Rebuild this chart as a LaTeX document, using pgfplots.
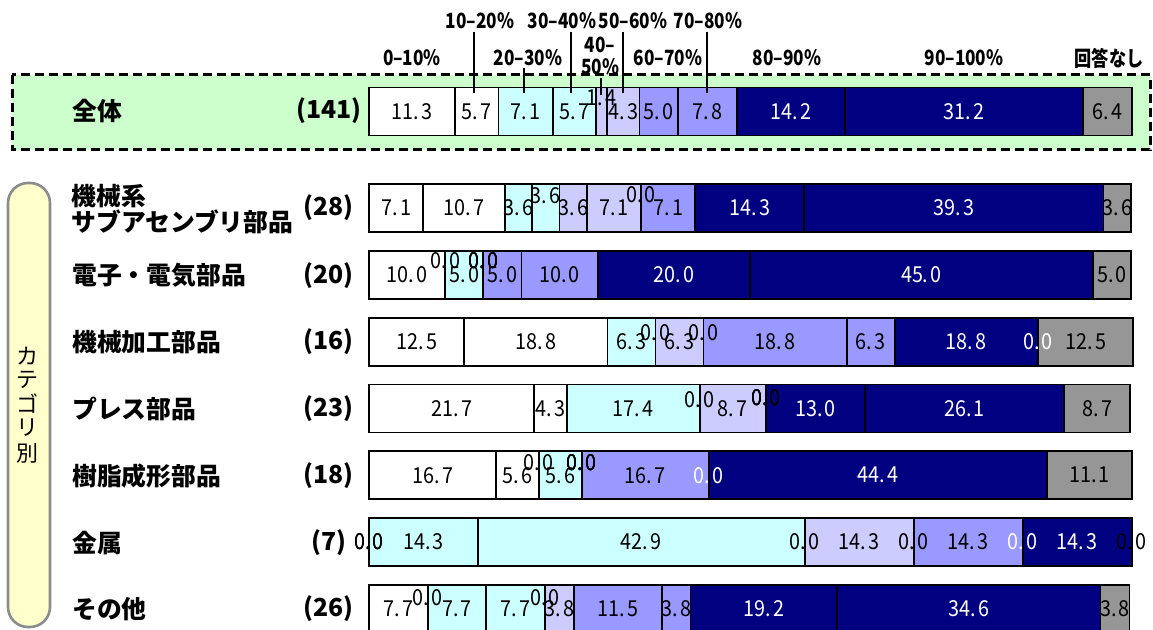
\documentclass[border=0pt]{standalone}
\usepackage{fontspec}
\setmainfont{Noto Sans CJK JP}
\newfontfamily\narrowfam{Noto Sans CJK JP}[FakeStretch=0.82]
\newfontfamily\valfam{Noto Sans CJK JP}[FakeStretch=0.9]
\usepackage{pgfplots}
\pgfplotsset{compat=1.18}
\usepackage{pgfplotstable}

% segment fills: 0-10 ... 90-100, no answer
\definecolor{c1}{HTML}{FFFFFF}
\definecolor{c2}{HTML}{FFFFFF}
\definecolor{c3}{HTML}{CCFFFF}
\definecolor{c4}{HTML}{CCFFFF}
\definecolor{c5}{HTML}{CCCCFF}
\definecolor{c6}{HTML}{CCCCFF}
\definecolor{c7}{HTML}{9999FF}
\definecolor{c8}{HTML}{9999FF}
\definecolor{c9}{HTML}{000080}
\definecolor{c10}{HTML}{000080}
\definecolor{c11}{HTML}{969696}
% value label colours
\colorlet{t1}{black}\colorlet{t2}{black}\colorlet{t3}{black}\colorlet{t4}{black}
\colorlet{t5}{black}\colorlet{t6}{black}\colorlet{t7}{black}\colorlet{t8}{black}
\colorlet{t9}{white}\colorlet{t10}{white}\colorlet{t11}{black}
\definecolor{boxgreen}{HTML}{CCFFCC}
\definecolor{boxyellow}{HTML}{FFFFCC}
\definecolor{boxedge}{HTML}{8C8C8C}

\newcommand\valfont{\valfam\fontsize{11pt}{12pt}\selectfont}
\newcommand\catfont{\fontsize{12.4pt}{14pt}\selectfont\bfseries}
\newcommand\hdrfont{\narrowfam\fontsize{10.5pt}{11pt}\selectfont\bfseries}
% widen the gap after the decimal point
\def\splitval#1.#2.#3\relax{#1\if\relax\detokenize{#3}\relax\else.\kern1.2pt#2\fi}
\newcommand\lbl[1]{\edef\tmpv{#1}\expandafter\splitval\tmpv..\relax}
% meta entries are "value:lift"
\def\parsemeta#1:#2\relax{\gdef\mval{#1}\gdef\mdy{#2}}
\newcommand\readmeta{\edef\tmpm{\pgfplotspointmeta}\expandafter\parsemeta\tmpm\relax}

% r: row position; s1..s11: shares (%); d1..d11: label lift
\pgfplotstableread{
r      s1   s2   s3   s4   s5   s6   s7   s8   s9   s10  s11  d1 d2 d3 d4 d5 d6 d7 d8 d9 d10 d11
-1.444 11.3 5.7  7.1  5.7  1.4  4.3  5.0  7.8  14.2 31.2 6.4  0  0  0  0  14 0  0  0  0  0   0
0      7.1  10.7 3.6  3.6  3.6  7.1  0.0  7.1  14.3 39.3 3.6  0  0  0  12 0  0  13 0  0  0   0
1      10.0 0.0  5.0  0.0  0.0  0.0  5.0  10.0 20.0 45.0 5.0  0  14 0  14 14 14 0  0  0  0   0
2      12.5 18.8 6.3  0.0  6.3  0.0  18.8 6.3  18.8 0.0  12.5 0  0  0  9  0  9  0  0  0  0   0
3      21.7 4.3  17.4 0.0  8.7  0.0  0.0  0.0  13.0 26.1 8.7  0  0  0  9  0  11 11 11 0  0   0
4      16.7 5.6  0.0  5.6  0.0  0.0  0.0  16.7 0.0  44.4 11.1 0  0  13 0  13 13 13 0  0  0   0
5      0.0  0.0  14.3 42.9 0.0  14.3 0.0  14.3 0.0  14.3 0.0  0  0  0  0  0  0  0  0  0  0   0
6      7.7  0.0  7.7  7.7  0.0  3.8  11.5 3.8  19.2 34.6 3.8  0  11 0  0  11 0  0  0  0  0   0
}\shares
% running totals (c), segment centres (p) and label metadata (m)
\pgfplotstablecreatecol[create col/expr={0}]{c0}\shares
\pgfplotsinvokeforeach{1,...,11}{%
  \pgfmathtruncatemacro\prev{#1-1}%
  \pgfplotstablecreatecol[create col/expr={\thisrow{c\prev}+0.5*\thisrow{s#1}}]{p#1}\shares
  \pgfplotstablecreatecol[create col/expr={\thisrow{c\prev}+\thisrow{s#1}}]{c#1}\shares
  \pgfplotstablecreatecol[create col/assign/.code={%
    \edef\entry{\thisrow{s#1}:\thisrow{d#1}}%
    \pgfkeyslet{/pgfplots/table/create col/next content}\entry}]{m#1}\shares}

\pgfplotsset{panel/.style={
  at={(184.5pt,-20.5pt)}, anchor=north west,
  scale only axis, width=381pt, height=317.3pt,
  xmin=0, xmax=100, ymin=-2.5, ymax=7, y dir=reverse,
  hide axis, clip=false}}

\begin{document}
\begin{tikzpicture}
% background panels
\begin{scope}[x=0.5pt,y=-0.5pt]
  \fill[boxgreen] (12,75) rectangle (1150,150);
  \draw[black, line width=1.5pt, dash pattern=on 4.5pt off 2.5pt] (12,75) rectangle (1150,150);
  \draw[boxedge, fill=boxyellow, line width=1.3pt, rounded corners=10pt] (8,183) rectangle (50,627);
\end{scope}

% stacked bars
\begin{axis}[panel, xbar stacked, bar width=24pt, bar shift=0pt]
\pgfplotsinvokeforeach{1,...,11}{
  \addplot[fill=c#1, draw=black, line width=0.9pt] table[x=s#1, y=r] {\shares};
}
\end{axis}

% value labels at the centre of each segment
\begin{axis}[panel]
\pgfplotsinvokeforeach{1,...,11}{
  \addplot[only marks, mark=none, point meta=explicit symbolic,
    nodes near coords={\lbl{\mval}},
    every node near coord/.style={/utils/exec={\readmeta}, anchor=center,
      text=t#1, font=\valfont, inner sep=0pt, yshift={\mdy*0.5pt}},
  ] table[x=p#1, y=r, meta=m#1] {\shares};
}
\end{axis}

% column headings, category names and sample sizes
\begin{scope}[x=0.5pt,y=-0.5pt]
  \begin{scope}[font=\hdrfont]
    \node at (412,58) {0–10\%};
    \node at (480,21) {10–20\%};
    \node at (528,58) {20–30\%};
    \node at (562,21) {30–40\%};
    \node at (600,45) {40–};
    \node at (600,67) {50\%};
    \node at (633,21) {50–60\%};
    \node at (668,58) {60–70\%};
    \node at (708,21) {70–80\%};
    \node at (787,58) {80–90\%};
    \node at (964,58) {90–100\%};
    \node at (1109,58) {回答なし};
  \end{scope}
  \begin{scope}[line width=1pt]
    \draw (474,32) -- (474,93);
    \draw (524,68) -- (524,93);
    \draw (571,32) -- (571,93);
    \draw (601,78) -- (601,95);
    \draw (623,32) -- (623,93);
    \draw (707,32) -- (707,93);
  \end{scope}
  \begin{scope}[font=\catfont, inner sep=0pt]
    \node[anchor=west] at (72,111) {全体};
    \node[anchor=west] at (71,196) {機械系};
    \node[anchor=west] at (71,222) {サブアセンブリ部品};
    \node[anchor=west] at (72,275) {電子・電気部品};
    \node[anchor=west] at (72,342) {機械加工部品};
    \node[anchor=west] at (72,409) {プレス部品};
    \node[anchor=west] at (72,476) {樹脂成形部品};
    \node[anchor=west] at (72,543) {金属};
    \node[anchor=west] at (72,609) {その他};
    \node[anchor=east] at (362,111) {(141)};
    \node[anchor=east] at (354,208) {(28)};
    \node[anchor=east] at (354,276) {(20)};
    \node[anchor=east] at (354,342) {(16)};
    \node[anchor=east] at (354,409) {(23)};
    \node[anchor=east] at (354,476) {(18)};
    \node[anchor=east] at (347,543) {(7)};
    \node[anchor=east] at (354,609) {(26)};
  \end{scope}
  \begin{scope}[font=\fontsize{11pt}{12pt}\selectfont, inner sep=0pt]
    \node at (28,356) {カ};
    \node at (28,380) {テ};
    \node at (28,404) {ゴ};
    \node at (28,428) {リ};
    \node at (28,453) {別};
  \end{scope}
\end{scope}

\pgfresetboundingbox
\useasboundingbox (0,0) rectangle (576.5pt,-315pt);
\end{tikzpicture}
\end{document}
